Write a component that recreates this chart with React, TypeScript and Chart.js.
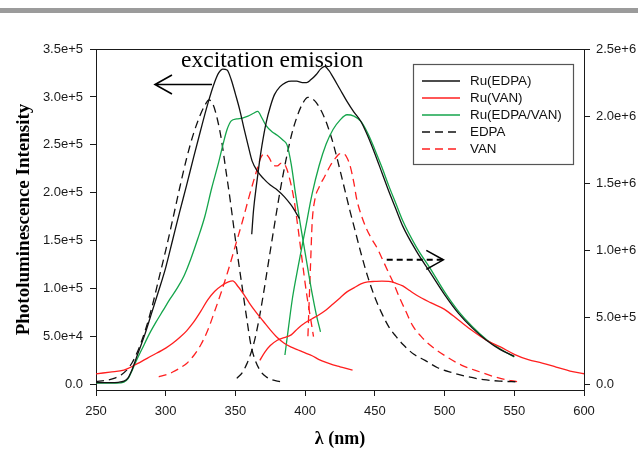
import React, { useEffect, useRef } from 'react';
import { Chart, registerables } from 'chart.js';

Chart.register(...registerables);

// ---- Ru(EDPA): excitation (left axis) and emission (right axis) ----
const ruEdpaExNm = [250, 260, 266, 270, 273, 276, 280, 285, 290, 295, 300, 305, 310, 315, 320, 325, 330, 335, 338, 341, 344, 347, 350, 353, 356, 359, 362, 366, 370, 375, 380, 385, 390, 396];
const ruEdpaEx = [2000, 2000, 2300, 3500, 7000, 16000, 32000, 52000, 75000, 98000, 122000, 151000, 180000, 208000, 237000, 265000, 292000, 315000, 325000, 329000, 328000, 318000, 303000, 287000, 268000, 250000, 233000, 222000, 215000, 208000, 203000, 196000, 187000, 173000];
const ruEdpaEmNm = [361.7, 363, 365, 367, 369, 372, 375, 378, 382, 386, 390, 394, 398, 401, 404, 408, 411, 414, 417, 420, 425, 430, 435, 440, 445, 450, 455, 460, 465, 470, 480, 490, 500, 510, 520, 530, 540, 550];
const ruEdpaEm = [1120000, 1300000, 1480000, 1640000, 1780000, 1950000, 2070000, 2160000, 2220000, 2250000, 2260000, 2260000, 2250000, 2250000, 2270000, 2310000, 2350000, 2370000, 2340000, 2290000, 2200000, 2110000, 2030000, 1960000, 1850000, 1720000, 1580000, 1440000, 1310000, 1180000, 990000, 830000, 670000, 530000, 420000, 330000, 260000, 210000];

// ---- Ru(VAN) ----
const ruVanExNm = [250, 260, 270, 280, 290, 300, 305, 310, 315, 320, 325, 330, 335, 340, 345, 348, 352, 356, 360, 365, 370, 375, 380, 385, 390, 395, 400, 405, 410, 415, 420, 425, 430, 434];
const ruVanEx = [11000, 13000, 15000, 22000, 30000, 38000, 43000, 49000, 56000, 65000, 76000, 88000, 97000, 103000, 107000, 108000, 102000, 94000, 85000, 75000, 66000, 57000, 49000, 43000, 39000, 36000, 33000, 30000, 26000, 23000, 20500, 18500, 16500, 15000];
const ruVanEmNm = [367.5, 371, 375, 380, 385, 390, 395, 400, 405, 410, 415, 420, 425, 430, 435, 440, 445, 450, 455, 460, 465, 470, 475, 480, 490, 500, 510, 520, 530, 540, 550, 560, 570, 580, 590, 600];
const ruVanEm = [180000, 240000, 290000, 330000, 350000, 370000, 420000, 460000, 490000, 520000, 555000, 600000, 645000, 690000, 720000, 750000, 765000, 768000, 770000, 768000, 755000, 735000, 700000, 665000, 610000, 560000, 480000, 400000, 330000, 280000, 225000, 185000, 160000, 130000, 100000, 80000];

// ---- Ru(EDPA/VAN) ----
const ruMixExNm = [250, 265, 270, 273, 276, 279, 283, 288, 293, 298, 303, 308, 313, 318, 323, 328, 333, 338, 341, 344, 347, 351, 355, 359, 363, 366, 369, 372, 376, 380, 384, 387, 390, 393, 396, 399, 402, 405, 408, 411];
const ruMixEx = [1500, 1500, 2500, 6000, 15000, 25000, 37000, 52000, 65000, 77000, 89000, 100000, 113000, 131000, 152000, 175000, 205000, 232000, 250000, 266000, 275000, 277000, 278000, 280000, 283000, 285000, 278000, 270000, 264000, 260000, 255000, 250000, 230000, 200000, 172000, 146000, 120000, 95000, 73000, 55000];
const ruMixEmNm = [385.5, 388, 391, 395, 400, 405, 410, 415, 420, 425, 430, 435, 440, 445, 450, 455, 460, 465, 470, 480, 490, 500, 510, 520, 530, 540, 550];
const ruMixEm = [220000, 420000, 650000, 880000, 1150000, 1420000, 1630000, 1790000, 1900000, 1970000, 2010000, 2000000, 1960000, 1870000, 1750000, 1620000, 1480000, 1350000, 1220000, 1020000, 860000, 690000, 545000, 430000, 335000, 265000, 205000];

// ---- EDPA ----
const edpaExNm = [250, 258, 264, 268, 272, 276, 280, 285, 290, 295, 300, 305, 310, 315, 320, 325, 328, 331, 334, 337, 340, 343, 346, 349, 352, 355, 358, 361, 364, 368, 372, 376, 382];
const edpaEx = [3000, 4500, 7000, 10000, 15000, 23000, 35000, 55000, 80000, 110000, 140000, 172000, 205000, 236000, 262000, 282000, 291000, 297000, 292000, 277000, 255000, 225000, 195000, 162000, 130000, 100000, 70000, 42000, 26000, 14000, 8000, 5000, 3000];
const edpaEmNm = [351, 355, 358, 361, 364, 367, 370, 374, 378, 382, 386, 390, 394, 398, 402, 405, 408, 412, 416, 420, 424, 428, 432, 436, 440, 445, 450, 455, 460, 465, 470, 478, 486, 495, 505, 515, 528, 540, 552];
const edpaEm = [46000, 90000, 150000, 230000, 340000, 490000, 670000, 930000, 1190000, 1440000, 1660000, 1850000, 1990000, 2090000, 2140000, 2130000, 2100000, 2030000, 1930000, 1800000, 1640000, 1470000, 1300000, 1140000, 980000, 800000, 650000, 530000, 430000, 360000, 300000, 225000, 180000, 125000, 90000, 62000, 36000, 25000, 20000];

// ---- VAN ----
const vanExNm = [295, 300, 305, 310, 315, 320, 325, 330, 335, 340, 345, 350, 355, 360, 365, 368, 371, 374, 377, 380, 383, 386, 389, 392, 395, 398, 401, 404, 406];
const vanEx = [8000, 10000, 13000, 17000, 22000, 30000, 41000, 56000, 76000, 97000, 120000, 145000, 170000, 197000, 222000, 236000, 241000, 237000, 229000, 228000, 231000, 228000, 214000, 193000, 162000, 128000, 95000, 68000, 50000];
const vanEmNm = [402, 403, 404, 405, 407, 410, 414, 418, 422, 425, 427.5, 430, 432.5, 435, 437, 440, 444, 448, 452, 456, 460, 464, 468, 472, 477, 483, 490, 501, 512, 525, 540, 552];
const vanEm = [360000, 650000, 930000, 1200000, 1380000, 1470000, 1550000, 1630000, 1690000, 1720000, 1720000, 1690000, 1620000, 1500000, 1380000, 1270000, 1160000, 1080000, 1010000, 920000, 830000, 740000, 640000, 550000, 440000, 360000, 290000, 210000, 145000, 95000, 45000, 21000];

// ---- axes ----
const leftTicks = [0, 50000, 100000, 150000, 200000, 250000, 300000, 350000];
const rightTicks = [0, 500000, 1000000, 1500000, 2000000, 2500000];
const xTicks = [250, 300, 350, 400, 450, 500, 550, 600];

const headerText = 'excitation emission';
const xTitle = 'λ (nm)';
const yTitle = 'Photoluminescence Intensity';

const SANS = '"Liberation Sans", Arial, sans-serif';
const SERIF = '"Liberation Serif", "Times New Roman", serif';
const AXIS = '#1a1a1a';
const BLACK = '#111111';
const RED = '#ff1f1f';
const GREEN = '#14a54b';
const DASH = [8, 5];

const legendItems = [
  { label: 'Ru(EDPA)', color: BLACK, dash: [] as number[] },
  { label: 'Ru(VAN)', color: RED, dash: [] as number[] },
  { label: 'Ru(EDPA/VAN)', color: GREEN, dash: [] as number[] },
  { label: 'EDPA', color: BLACK, dash: DASH },
  { label: 'VAN', color: RED, dash: DASH },
];

function pts(nm: number[], v: number[]) {
  return nm.map((x, i) => ({ x, y: v[i] }));
}

function sci(v: number) {
  if (v === 0) return '0.0';
  const e = Math.floor(Math.log10(v) + 1e-9);
  const m = v / Math.pow(10, e);
  return `${m.toFixed(1)}e+${e}`;
}

function line(label: string, nm: number[], v: number[], color: string, dash: number[], axis: string) {
  return {
    label,
    data: pts(nm, v),
    borderColor: color,
    borderDash: dash,
    borderWidth: 1.3,
    pointRadius: 0,
    fill: false,
    cubicInterpolationMode: 'monotone' as const,
    yAxisID: axis,
  };
}

const decorations = {
  id: 'decorations',
  beforeDraw(chart: any) {
    const { ctx, width } = chart;
    ctx.save();
    ctx.fillStyle = '#ffffff';
    ctx.fillRect(0, 0, width, chart.height);
    ctx.fillStyle = '#9b9b9b';
    ctx.fillRect(0, 8, width, 5);
    ctx.restore();
  },
  afterDraw(chart: any) {
    const { ctx, chartArea: a, scales } = chart;
    const xs = scales.x, yl = scales.y, yr = scales.y2;
    ctx.save();

    // top frame line
    ctx.strokeStyle = AXIS;
    ctx.lineWidth = 1;
    ctx.beginPath();
    ctx.moveTo(a.left, a.top + 0.5);
    ctx.lineTo(a.right + 0.5, a.top + 0.5);
    ctx.stroke();

    // header label
    ctx.fillStyle = '#000';
    ctx.font = `23.5px ${SERIF}`;
    ctx.textBaseline = 'alphabetic';
    ctx.textAlign = 'left';
    ctx.fillText(headerText, xs.getPixelForValue(311), a.top + 18);

    // excitation arrow (points to the left axis)
    ctx.strokeStyle = '#000';
    ctx.lineWidth = 1.6;
    const ay = yl.getPixelForValue(313000);
    const tip = xs.getPixelForValue(292.3);
    ctx.beginPath();
    ctx.moveTo(xs.getPixelForValue(333.2), ay);
    ctx.lineTo(tip, ay);
    ctx.moveTo(tip + 17, ay - 9.5);
    ctx.lineTo(tip, ay);
    ctx.lineTo(tip + 17, ay + 9.5);
    ctx.stroke();

    // emission arrow (points to the right axis)
    const by = yr.getPixelForValue(929000);
    const btip = xs.getPixelForValue(499.1);
    ctx.lineWidth = 2;
    ctx.setLineDash([6, 4]);
    ctx.beginPath();
    ctx.moveTo(xs.getPixelForValue(458.5), by);
    ctx.lineTo(btip, by);
    ctx.stroke();
    ctx.setLineDash([]);
    ctx.lineWidth = 1.6;
    ctx.beginPath();
    ctx.moveTo(btip - 17, by - 9.5);
    ctx.lineTo(btip, by);
    ctx.lineTo(btip - 17, by + 9.5);
    ctx.stroke();

    // legend
    const lx = a.right - 171;
    const ly = a.top + 15;
    ctx.strokeStyle = '#555';
    ctx.lineWidth = 1.2;
    ctx.strokeRect(lx + 0.5, ly + 0.5, 160, 100);
    ctx.font = `13.4px ${SANS}`;
    ctx.textBaseline = 'middle';
    legendItems.forEach((it, i) => {
      const y = ly + 17 + i * 17;
      ctx.strokeStyle = it.color;
      ctx.lineWidth = 1.3;
      ctx.setLineDash(it.dash);
      ctx.beginPath();
      ctx.moveTo(lx + 9, y);
      ctx.lineTo(lx + 47, y);
      ctx.stroke();
      ctx.setLineDash([]);
      ctx.fillStyle = '#111';
      ctx.fillText(it.label, lx + 57, y);
    });
    ctx.restore();
  },
};

export default function App() {
  const ref = useRef<HTMLCanvasElement | null>(null);

  useEffect(() => {
    if (!ref.current) return;
    const grid = { drawOnChartArea: false, drawTicks: true, tickLength: 6, color: AXIS, lineWidth: 1 };
    const border = { display: true, color: AXIS, width: 1 };
    const chart = new Chart(ref.current, {
      type: 'line',
      data: {
        datasets: [
          line('Ru(EDPA)', ruEdpaExNm, ruEdpaEx, BLACK, [], 'y'),
          line('Ru(EDPA)', ruEdpaEmNm, ruEdpaEm, BLACK, [], 'y2'),
          line('Ru(VAN)', ruVanExNm, ruVanEx, RED, [], 'y'),
          line('Ru(VAN)', ruVanEmNm, ruVanEm, RED, [], 'y2'),
          line('Ru(EDPA/VAN)', ruMixExNm, ruMixEx, GREEN, [], 'y'),
          line('Ru(EDPA/VAN)', ruMixEmNm, ruMixEm, GREEN, [], 'y2'),
          line('EDPA', edpaExNm, edpaEx, BLACK, DASH, 'y'),
          line('EDPA', edpaEmNm, edpaEm, BLACK, DASH, 'y2'),
          line('VAN', vanExNm, vanEx, RED, DASH, 'y'),
          line('VAN', vanEmNm, vanEm, RED, DASH, 'y2'),
        ],
      },
      options: {
        responsive: false,
        animation: false,
        devicePixelRatio: 1,
        layout: { padding: { top: 49, left: 0, right: 0, bottom: 0 } },
        plugins: { legend: { display: false }, tooltip: { enabled: false } },
        scales: {
          x: {
            type: 'linear',
            min: 250,
            max: 600,
            grid,
            border,
            afterBuildTicks: (s: any) => { s.ticks = xTicks.map((v) => ({ value: v })); },
            afterFit: (s: any) => { s.height = 60; },
            ticks: { font: { family: SANS, size: 13 }, color: AXIS, padding: 8, maxRotation: 0 },
            title: {
              display: true,
              text: xTitle,
              font: { family: SERIF, size: 18, weight: 'bold' },
              color: '#000',
              padding: { top: 0, bottom: 0 },
            },
          },
          y: {
            type: 'linear',
            position: 'left',
            min: -5738,
            max: 350000,
            grid,
            border,
            afterBuildTicks: (s: any) => { s.ticks = leftTicks.map((v) => ({ value: v })); },
            afterFit: (s: any) => { s.width = 96; },
            ticks: { font: { family: SANS, size: 13 }, color: AXIS, padding: 7, callback: (v: any) => sci(Number(v)) },
            title: {
              display: true,
              text: yTitle,
              font: { family: SERIF, size: 19, weight: 'bold' },
              color: '#000',
              padding: { top: 13, bottom: 0 },
            },
          },
          y2: {
            type: 'linear',
            position: 'right',
            min: -40984,
            max: 2500000,
            grid,
            border,
            afterBuildTicks: (s: any) => { s.ticks = rightTicks.map((v) => ({ value: v })); },
            afterFit: (s: any) => { s.width = 54; },
            ticks: { font: { family: SANS, size: 13 }, color: AXIS, padding: 6, callback: (v: any) => sci(Number(v)) },
          },
        },
      },
      plugins: [decorations],
    });
    return () => chart.destroy();
  }, []);

  return (
    <div style={{ position: 'fixed', left: 0, top: 0, width: 638, height: 450, background: '#fff' }}>
      <canvas ref={ref} width={638} height={450} style={{ display: 'block' }} />
    </div>
  );
}
